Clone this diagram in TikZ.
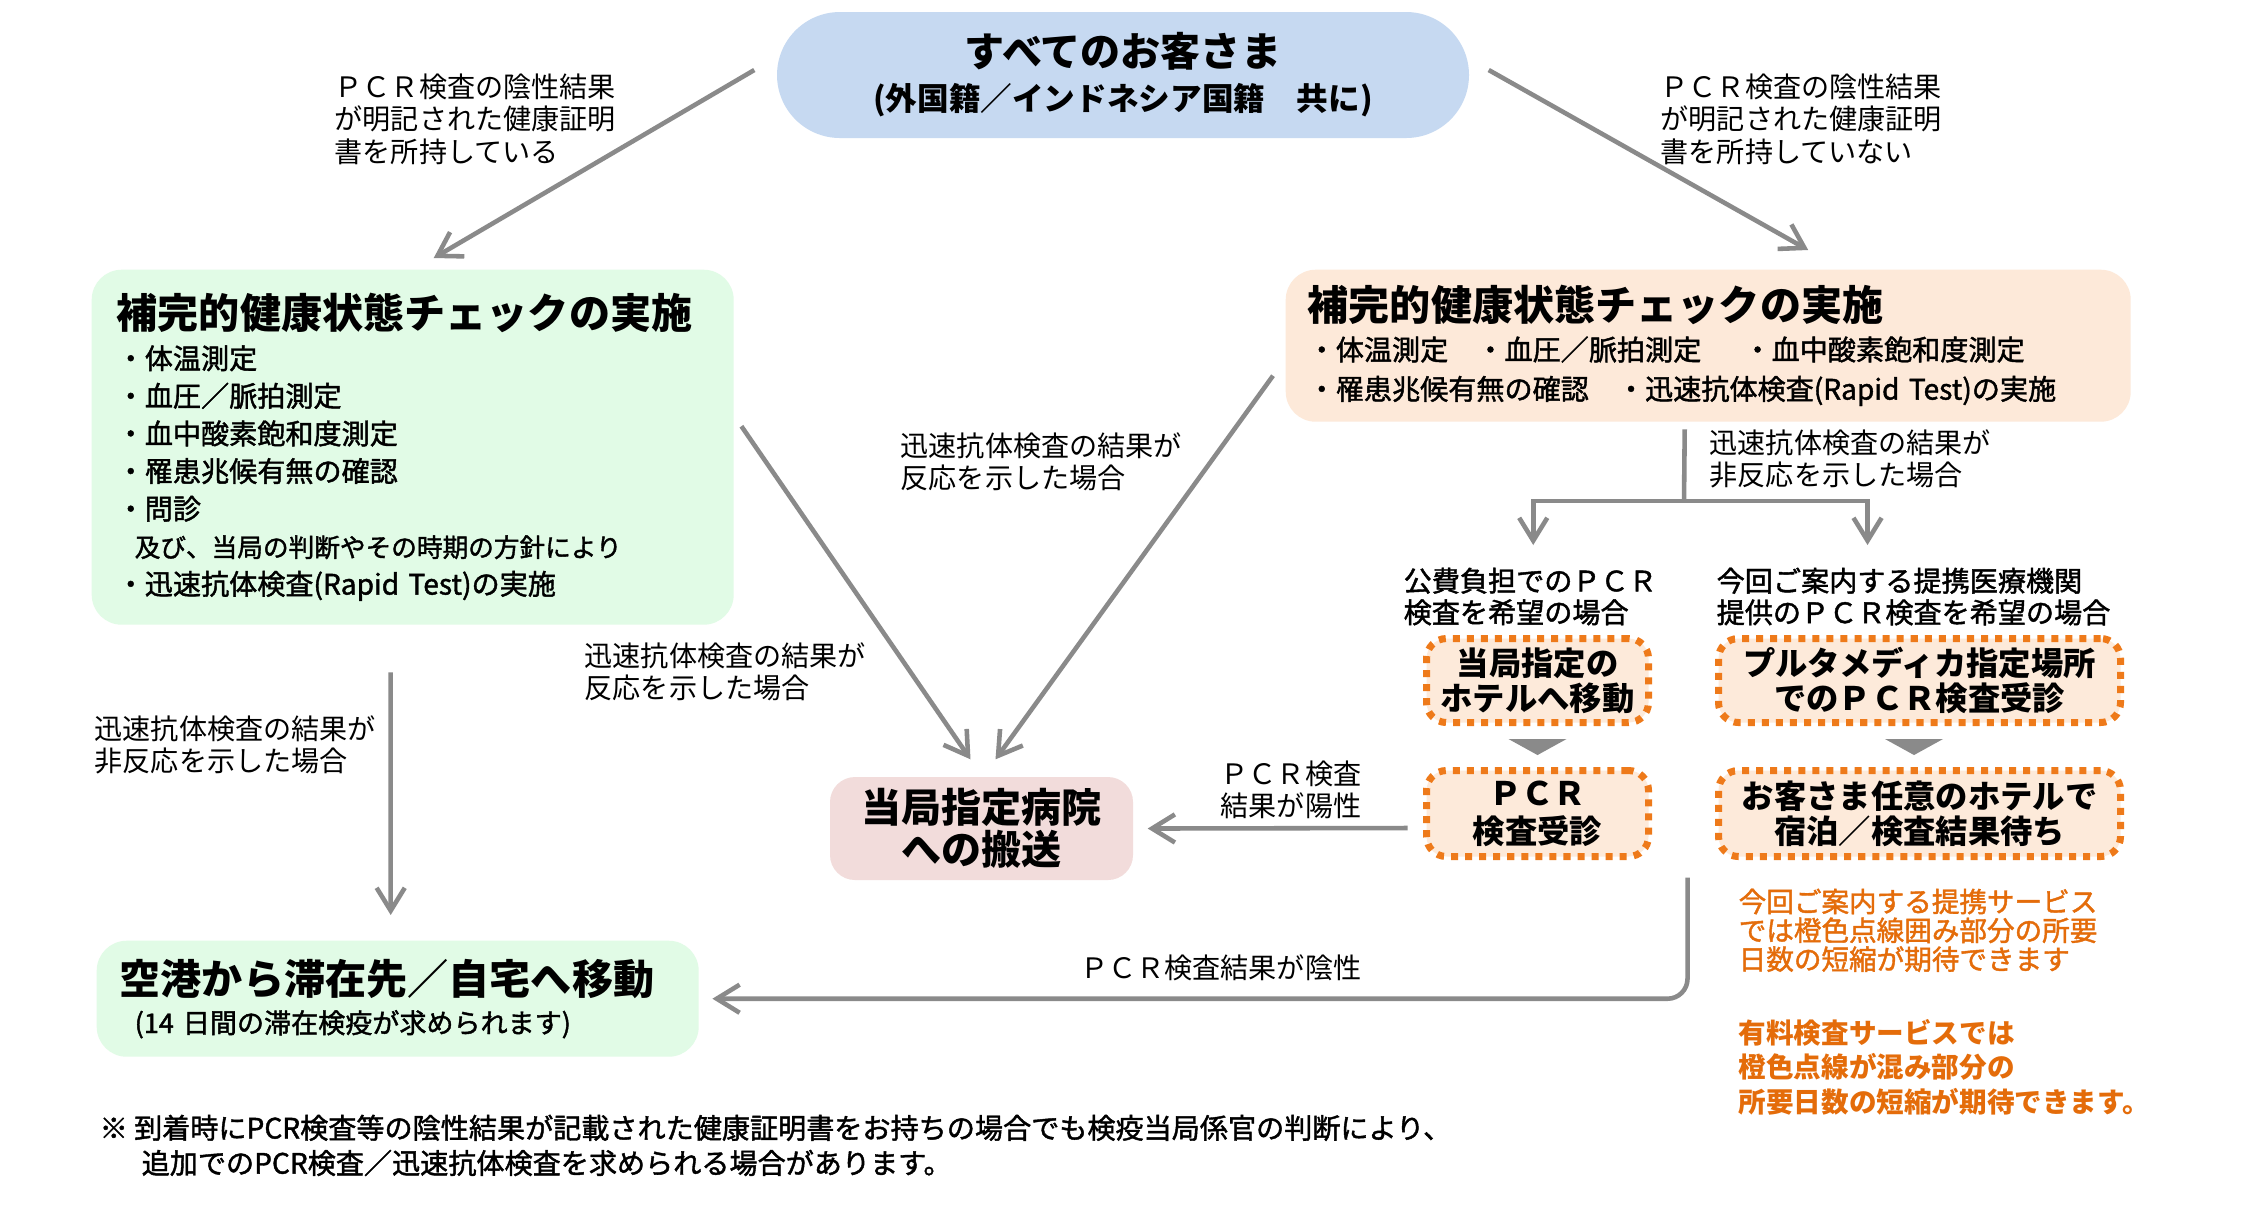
\documentclass[tikz,border=0pt]{standalone}
\usepackage{fontspec}
\setmainfont{Noto Sans CJK JP}
\newfontfamily\medfont{Noto Sans CJK JP}[FakeBold=1.5]
\usetikzlibrary{arrows.meta}
\definecolor{pillblue}{HTML}{C6D9F1}
\definecolor{mint}{HTML}{E1FBE6}
\definecolor{peach}{HTML}{FDE9D9}
\definecolor{dotfill}{HTML}{FDEADA}
\definecolor{rose}{HTML}{F2DCDB}
\definecolor{dotorange}{HTML}{EE7A1A}
\definecolor{noteorange}{HTML}{E46C0A}
\definecolor{linegray}{HTML}{8A8A8A}
\newcommand{\setfs}[2]{\fontsize{#1pt}{#2pt}\selectfont}

\begin{document}
\begin{tikzpicture}[x=0.1mm, y=-0.1mm,
    lbl/.style={inner sep=0pt, anchor=north west, align=left, font=\setfs{8}{9.2}},
    head/.style={lbl, font=\medfont\setfs{8}{9}},
    note/.style={lbl, text=noteorange},
    arr/.style={color=linegray, line width=1.3pt, -{Straight Barb[length=6.5pt,width=8pt]}},
    gline/.style={draw=linegray, line width=1.3pt},
    tri/.style={fill=linegray},
    pillbox/.style={fill=pillblue, rounded corners=6.3mm, minimum width=69.2mm, minimum height=12.6mm, align=center, inner sep=0pt, font=\bfseries\setfs{9}{12.5}},
    greenbox/.style={fill=mint, rounded corners=3mm, anchor=north west, align=left, inner ysep=0pt},
    peachbox/.style={fill=peach, rounded corners=3mm, anchor=north west, align=left, inner ysep=0pt},
    hospbox/.style={fill=rose, rounded corners=2.5mm, minimum width=30.3mm, minimum height=10.3mm, align=center, inner sep=0pt, font=\bfseries\setfs{11.4}{12}},
    dotbox/.style={draw=dotorange, fill=dotfill, line width=2pt, dash pattern=on 2pt off 2pt, rounded corners=2mm, minimum height=8.4mm, align=center, inner sep=0pt, font=\bfseries\setfs{9.2}{10}}]

  \fill[white] (0,0) rectangle (2250,1213);
  \useasboundingbox (0,0) rectangle (2250,1213);

  \node[pillbox, name=all] at (1123,75) {{\setfs{11.4}{13}すべてのお客さま}\\(外国籍／インドネシア国籍　共に)};

  \node[greenbox, name=checkL, text width=59.2mm, inner xsep=2.5mm, minimum height=35.5mm, font=\medfont\setfs{8}{10.7}] at (91,269) {{\rmfamily\bfseries\setfs{11.7}{12}補完的健康状態チェックの実施}\\[0.7pt]
    ・体温測定\\
    ・血圧／脈拍測定\\
    ・血中酸素飽和度測定\\
    ・罹患兆候有無の確認\\
    ・問診\\
    \hspace*{1.8mm}{\setfs{7.3}{10.7}及び、当局の判断やその時期の方針により}\\
    ・迅速抗体検査(Rapid Test)の実施};

  \node[peachbox, name=checkR, text width=80.1mm, inner xsep=2.2mm, minimum height=15.2mm, font=\medfont\setfs{8}{11.2}] at (1285,269) {{\rmfamily\bfseries\setfs{11.7}{12}補完的健康状態チェックの実施}\\
    ・体温測定\hspace{1em}・血圧／脈拍測定\hspace{1.5em}・血中酸素飽和度測定\\
    ・罹患兆候有無の確認\hspace{1em}・迅速抗体検査(Rapid Test)の実施};

  \node[hospbox, name=hosp] at (981.5,828.5) {当局指定病院\\への搬送};

  \node[greenbox, name=home, text width=55.6mm, inner xsep=2.3mm, minimum height=11.6mm, font=\medfont\setfs{7.7}{11}] at (96,940) {{\rmfamily\bfseries\setfs{11.7}{12}空港から滞在先／自宅へ移動}\\
    \hspace*{1.5mm}(14 日間の滞在検疫が求められます)};

  \node[dotbox, name=hotel, minimum width=22.2mm] at (1537.5,680.5) {当局指定の\\ホテルへ移動};
  \node[dotbox, name=clinic, minimum width=40.2mm] at (1919.5,680.5) {プルタメディカ指定場所\\でのＰＣＲ検査受診};
  \node[dotbox, name=pcr, minimum width=22.2mm, minimum height=8.6mm, font=\bfseries\setfs{9.2}{10.8}] at (1537.5,813.5) {ＰＣＲ\\検査受診};
  \node[dotbox, name=stay, minimum width=40.2mm, minimum height=8.6mm] at (1919.5,813.5) {お客さま任意のホテルで\\宿泊／検査結果待ち};

  \node[head, name=headL] at (1403,567) {公費負担でのＰＣＲ\\検査を希望の場合};
  \node[head, name=headR] at (1716,567) {今回ご案内する提携医療機関\\提供のＰＣＲ検査を希望の場合};

  \node[lbl, name=haveCert] at (334,73) {ＰＣＲ検査の陰性結果\\が明記された健康証明\\書を所持している};
  \node[lbl, name=noCert] at (1660,73) {ＰＣＲ検査の陰性結果\\が明記された健康証明\\書を所持していない};
  \node[lbl, name=reactR] at (900,432) {迅速抗体検査の結果が\\反応を示した場合};
  \node[lbl, name=reactL] at (584,642) {迅速抗体検査の結果が\\反応を示した場合};
  \node[lbl, name=nonreactL] at (94,715) {迅速抗体検査の結果が\\非反応を示した場合};
  \node[lbl, name=nonreactR] at (1709,429) {迅速抗体検査の結果が\\非反応を示した場合};
  \node[lbl, name=positive, anchor=north east, align=right] at (1362,760) {ＰＣＲ検査\\結果が陽性};
  \node[lbl, name=negative, anchor=north east] at (1362,954) {ＰＣＲ検査結果が陰性};

  \node[note, name=noteA, font=\medfont\setfs{7.85}{8.2}] at (1738,888) {今回ご案内する提携サービス\\では橙色点線囲み部分の所要\\日数の短縮が期待できます};
  \node[note, name=noteB, font=\bfseries\setfs{7.85}{9.7}] at (1738,1019) {有料検査サービスでは\\橙色点線が混み部分の\\所要日数の短縮が期待できます。};

  \node[lbl, name=foot, font=\medfont\setfs{8}{10}] at (99,1114) {※ 到着時にPCR検査等の陰性結果が記載された健康証明書をお持ちの場合でも検疫当局係官の判断により、\\
    \hspace*{4.2mm}追加でのPCR検査／迅速抗体検査を求められる場合があります。};

  \path[arr]
     ([shift={(-22,-5)}]all.west) edge ([shift={(21,-11)}]checkL.north)
     ([shift={(19,-5)}]all.east) edge ([shift={(100,-19)}]checkR.north)
     ([shift={(7,-21)}]checkL.east) edge ([shift={(-11,-17)}]hosp.north)
     ([shift={(-12,30)}]checkR.west) edge ([shift={(14,-17)}]hosp.north)
     ([shift={(-22,47)}]checkL.south) edge ([shift={(-7,-25)}]home.north)
     ([shift={(-15.5,14.5)}]pcr.west) edge ([shift={(14,0)}]hosp.east);

  \coordinate (split) at (1684,501);
  \draw[gline] ([shift={(-23.5,7)}]checkR.south) -- (split);
  \draw[arr] (split) -| ([shift={(3,-22)}]headL.north);
  \draw[arr] (split) -| ([shift={(-46,-22)}]headR.north);
  \draw[arr, rounded corners=2mm] ([shift={(35.5,17.5)}]pcr.south east) |- ([shift={(13,0)}]home.east);

  \fill[tri] ([shift={(-29,13)}]hotel.south) -- ++(58,0) -- ++(-29,16) -- cycle;
  \fill[tri] ([shift={(-34.5,13)}]clinic.south) -- ++(58,0) -- ++(-29,16) -- cycle;
\end{tikzpicture}
\end{document}
